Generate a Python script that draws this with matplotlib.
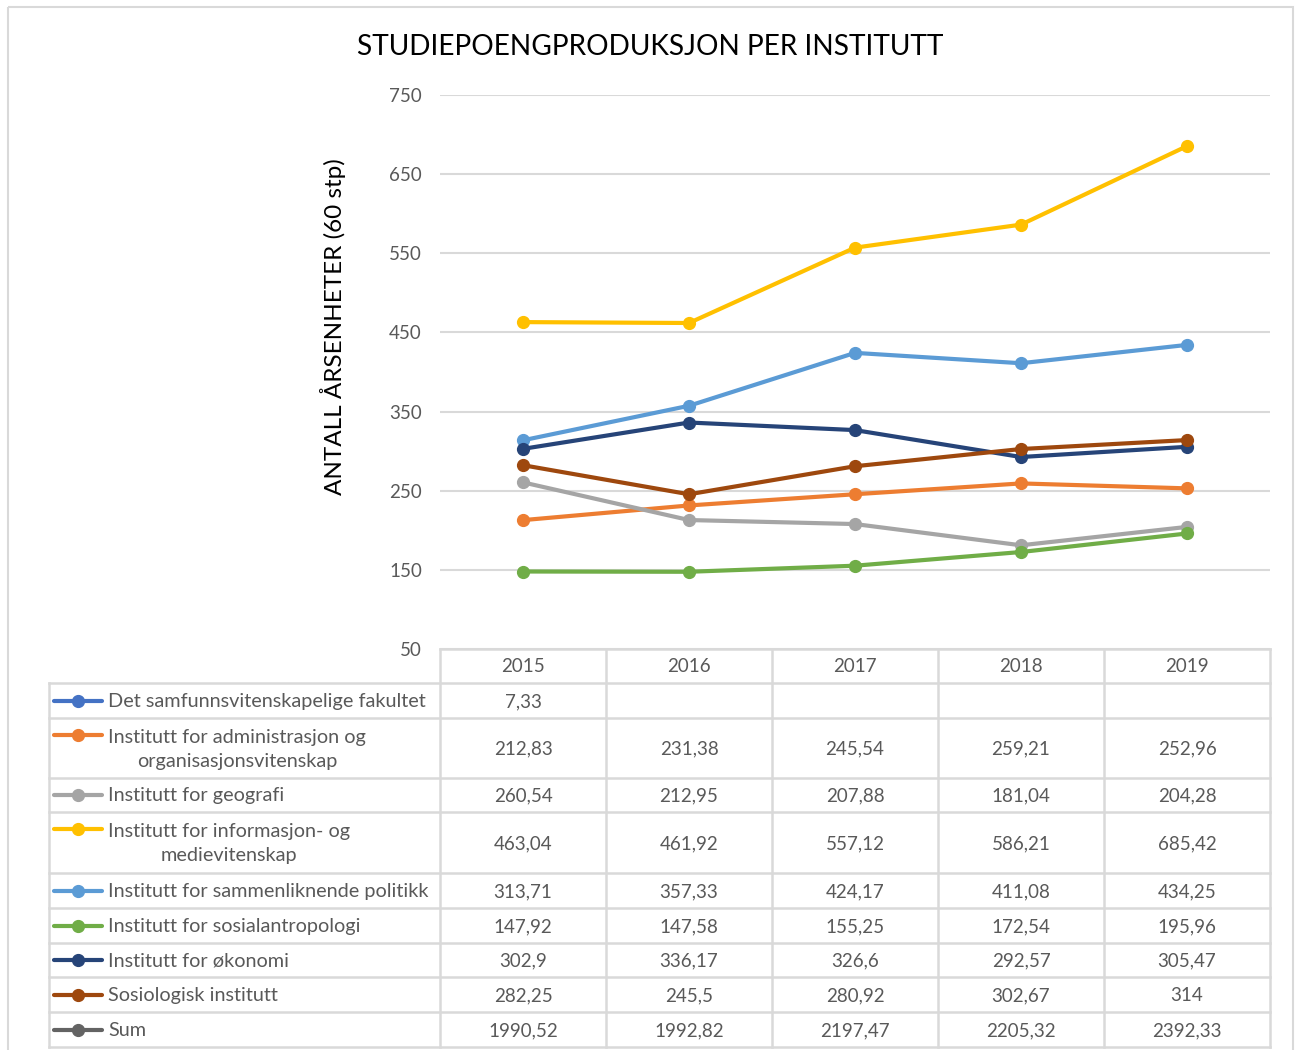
import matplotlib.pyplot as plt
from matplotlib.lines import Line2D
from matplotlib.patches import Rectangle
from matplotlib.transforms import blended_transform_factory, Affine2D

plt.rcParams['font.family'] = ['Lato', 'DejaVu Sans']

# Data
years = ['2015', '2016', '2017', '2018', '2019']
series_names = [
    'Det samfunnsvitenskapelige fakultet',
    'Institutt for administrasjon og\norganisasjonsvitenskap',
    'Institutt for geografi',
    'Institutt for informasjon- og\nmedievitenskap',
    'Institutt for sammenliknende politikk',
    'Institutt for sosialantropologi',
    'Institutt for økonomi',
    'Sosiologisk institutt',
    'Sum',
]
fakultet = [7.33, None, None, None, None]
admin_org = [212.83, 231.38, 245.54, 259.21, 252.96]
geografi = [260.54, 212.95, 207.88, 181.04, 204.28]
info_medie = [463.04, 461.92, 557.12, 586.21, 685.42]
samm_politikk = [313.71, 357.33, 424.17, 411.08, 434.25]
sosialantro = [147.92, 147.58, 155.25, 172.54, 195.96]
okonomi = [302.9, 336.17, 326.6, 292.57, 305.47]
sosiologi = [282.25, 245.5, 280.92, 302.67, 314]
total = [1990.52, 1992.82, 2197.47, 2205.32, 2392.33]
all_values = [fakultet, admin_org, geografi, info_medie, samm_politikk,
              sosialantro, okonomi, sosiologi, total]
colors = ['#4472C4', '#ED7D31', '#A5A5A5', '#FFC000', '#5B9BD5',
          '#70AD47', '#264478', '#9E480E', '#636363']

W, H = 1296, 1050
fig = plt.figure(figsize=(W / 100, H / 100), dpi=100)
# pixel (from top-left) -> figure transform
px = Affine2D().scale(1 / W, -1 / H).translate(0, 1) + fig.transFigure

# plot area
left, right, top, bottom = 440, 1270, 95, 649
ax = fig.add_axes([left / W, 1 - bottom / H, (right - left) / W, (bottom - top) / H])

xs = range(len(years))
for vals, c in zip(all_values, colors):
    pts = [(x, v) for x, v in zip(xs, vals) if v is not None]
    ax.plot([p[0] for p in pts], [p[1] for p in pts], color=c, lw=3,
            marker='o', markersize=8.5, solid_capstyle='round')

ax.set_xlim(-0.5, len(years) - 0.5)
ax.set_ylim(50, 750)
ax.set_yticks(range(50, 751, 100))
ax.set_xticks([])
ax.grid(axis='y', color='#D9D9D9', lw=1.5)
ax.set_axisbelow(True)
for s in ax.spines.values():
    s.set_visible(False)
ax.tick_params(axis='y', length=0, pad=13, labelsize=13.5, labelcolor='#595959')

fig.text(333, 327, 'ANTALL ÅRSENHETER (60 stp)', transform=px, rotation=90,
         ha='center', va='center', fontsize=17.5, color='#000000')

fig.text(650, 47, 'STUDIEPOENGPRODUKSJON PER INSTITUTT', transform=px,
         ha='center', va='center', fontsize=20.2, color='#000000')

# outer chart border
fig.add_artist(Rectangle((8, 7), 1285, 1060, transform=px, fill=False,
                         ec='#D9D9D9', lw=1.5))

# data table
grid_c = '#D9D9D9'
tbl_left = 49
row_edges = [649, 683, 718, 778, 812, 873, 908, 943, 977, 1012, 1047]
colx = blended_transform_factory(ax.transData, px)

def hline(x0, x1, y, tr=px):
    fig.add_artist(Line2D([x0, x1], [y, y], transform=tr, color=grid_c, lw=1.8))

def vline(x, y0, y1, tr=px):
    fig.add_artist(Line2D([x, x], [y0, y1], transform=tr, color=grid_c, lw=1.8))

hline(-0.5, len(years) - 0.5, row_edges[0], colx)
for y in row_edges[1:]:
    hline(tbl_left, right, y)
for i in range(len(years) + 1):
    vline(i - 0.5, row_edges[0], row_edges[-1], colx)
vline(tbl_left, row_edges[1], row_edges[-1])

txt_c = '#595959'
for i, yr in enumerate(years):
    fig.text(i, (row_edges[0] + row_edges[1]) / 2 + 1, yr, transform=colx,
             ha='center', va='center', fontsize=13.5, color=txt_c)

for r, (name, vals, c) in enumerate(zip(series_names, all_values, colors)):
    y0, y1 = row_edges[r + 1], row_edges[r + 2]
    ym = (y0 + y1) / 2
    two_lines = '\n' in name
    ykey = y0 + 17 if two_lines else ym
    fig.add_artist(Line2D([54, 102], [ykey, ykey], transform=px, color=c,
                          lw=3, solid_capstyle='round'))
    fig.add_artist(Line2D([78], [ykey], transform=px, color=c, marker='o',
                          markersize=8.5))
    fig.text(108, ym + 1, name, transform=px, ha='left', va='center',
             multialignment='center', fontsize=14.3, color=txt_c, linespacing=1.5)
    for i, v in enumerate(vals):
        if v is None:
            continue
        label = f'{v:g}'.replace('.', ',')
        fig.text(i, ym + 1, label, transform=colx, ha='center', va='center',
                 fontsize=13.5, color=txt_c)

fig.savefig('out.png', dpi=100)
